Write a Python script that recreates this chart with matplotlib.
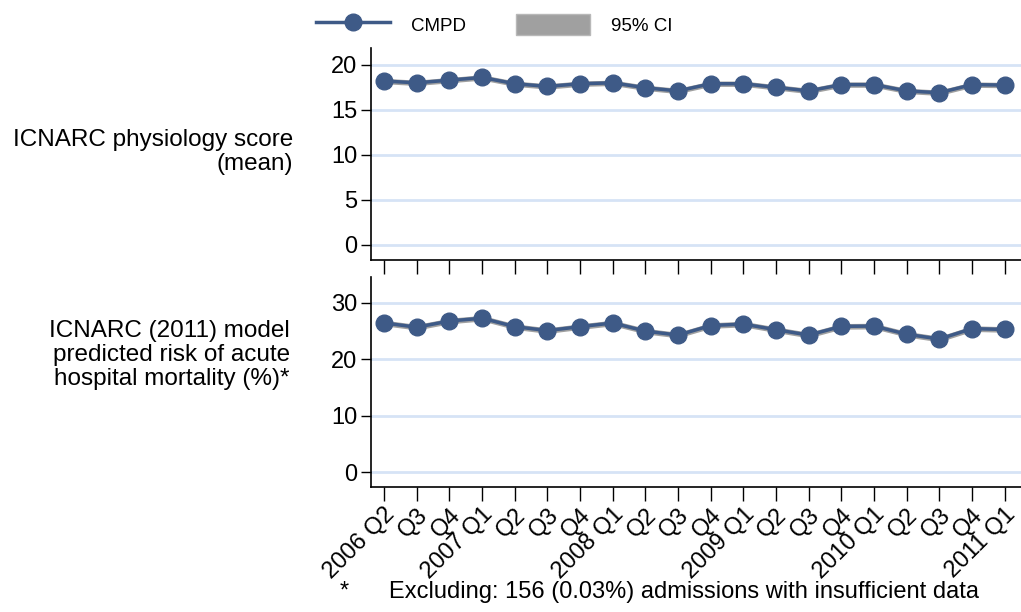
import matplotlib.pyplot as plt
from matplotlib.patches import Patch
from matplotlib.lines import Line2D
import numpy as np

plt.rcParams['font.family'] = ['Liberation Sans', 'DejaVu Sans']

quarters = ["2006 Q2", "Q3", "Q4", "2007 Q1", "Q2", "Q3", "Q4", "2008 Q1",
            "Q2", "Q3", "Q4", "2009 Q1", "Q2", "Q3", "Q4", "2010 Q1",
            "Q2", "Q3", "Q4", "2011 Q1"]

# ICNARC physiology score (mean)
phys_mean = [18.2, 18.0, 18.3, 18.6, 17.9, 17.6, 17.9, 18.0, 17.45, 17.1,
             17.9, 17.9, 17.5, 17.1, 17.8, 17.8, 17.1, 16.9, 17.8, 17.75]
phys_ci = [0.3] * 20

# ICNARC (2011) model predicted risk (%)
risk_mean = [26.45, 25.7, 26.8, 27.3, 25.8, 25.1, 25.8, 26.45, 25.0, 24.3,
             26.0, 26.25, 25.25, 24.3, 25.85, 25.9, 24.45, 23.6, 25.45, 25.3]
risk_ci = [0.5] * 20

line_col = '#3e5a87'
grid_col = '#d6e3f6'
ci_col = '#a0a0a0'
fs = 17

fig = plt.figure(figsize=(10.21, 6.12), dpi=100)
ax1 = fig.add_axes([0.3634, 0.575, 0.6366, 0.347])
ax2 = fig.add_axes([0.3634, 0.2042, 0.6366, 0.3431])

x = np.arange(len(quarters))

def panel(ax, mean, ci, yticks, ylim):
    mean = np.array(mean)
    ci = np.array(ci)
    ax.fill_between(x, mean - ci, mean + ci, color=ci_col, lw=0, zorder=2)
    ax.plot(x, mean, color=line_col, lw=2.5, marker='o', ms=12, zorder=3)
    ax.set_xlim(-0.40, 19.5)
    ax.set_ylim(*ylim)
    ax.set_yticks(yticks)
    for yt in yticks:
        ax.axhline(yt, color=grid_col, lw=2, zorder=1)
    for s in ['top', 'right']:
        ax.spines[s].set_visible(False)
    ax.spines['left'].set_linewidth(1.2)
    ax.spines['bottom'].set_linewidth(1.2)
    ax.set_xticks(x)
    ax.tick_params(axis='x', length=10, width=1, direction='out')
    ax.tick_params(axis='y', length=7, width=1, labelsize=fs, pad=3)

panel(ax1, phys_mean, phys_ci, [0, 5, 10, 15, 20], (-1.7, 21.9))
ax1.set_xticklabels([])
panel(ax2, risk_mean, risk_ci, [0, 10, 20, 30], (-2.66, 34.6))
ax2.set_xticklabels(quarters, rotation=45, ha='right', va='top',
                    rotation_mode='anchor', fontsize=fs)
ax2.tick_params(axis='x', pad=2)

fig.text(0.287, 0.752, "ICNARC physiology score\n(mean)", ha='right',
         va='center', fontsize=17.5, linespacing=1.1)
fig.text(0.284, 0.42, "ICNARC (2011) model\npredicted risk of acute\nhospital mortality (%)*",
         ha='right', va='center', fontsize=17.5, linespacing=1.12)

fig.text(0.333, 0.033, "*", fontsize=fs, ha='left', va='center')
fig.text(0.381, 0.033, "Excluding: 156 (0.03%) admissions with insufficient data",
         fontsize=fs, ha='left', va='center')

handles = [Line2D([], [], color=line_col, lw=2.5, marker='o', ms=12),
           Patch(facecolor=ci_col, edgecolor='#b8b8b8')]
fig.legend(handles, ["CMPD", "95% CI"], loc='upper left',
           bbox_to_anchor=(0.293, 1.005), ncol=2, frameon=False, fontsize=13.5,
           handlelength=3.95, handleheight=1.4, columnspacing=2.7,
           handletextpad=1.1)

fig.savefig('out.png', dpi=100)
